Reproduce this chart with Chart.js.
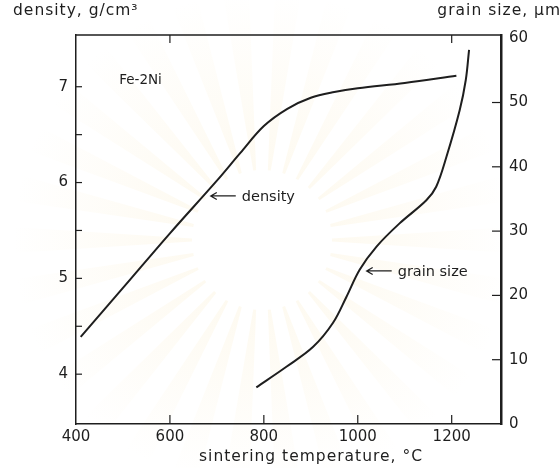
<!DOCTYPE html>
<html>
<head>
<meta charset="utf-8">
<title>Fe-2Ni sintering</title>
<script src="https://cdn.jsdelivr.net/npm/chart.js@4.4.1/dist/chart.umd.min.js"></script>
<style>
  html, body { margin: 0; padding: 0; background: #fff; }
  canvas { display: block; }
</style>
</head>
<body>
<canvas id="chart" width="560" height="468"></canvas>
<script>
// density curve: sintering temperature (°C) -> g/cm3
const densityTemp = [410, 500, 600, 700, 750, 800, 850, 900, 950, 1000, 1100, 1210];
const densityValue = [4.39, 4.90, 5.47, 6.02, 6.31, 6.59, 6.77, 6.885, 6.945, 6.985, 7.04, 7.115];

// grain size curve: sintering temperature (°C) -> µm
const grainTemp = [784, 848, 905, 947, 976, 1004, 1040, 1089, 1146, 1167, 1189, 1217, 1230, 1237];
const grainValue = [5.7, 8.9, 12.0, 15.7, 19.8, 24.0, 27.6, 31.2, 34.8, 36.9, 41.6, 48.8, 53.5, 58.2];

// axis ticks
const tempTicks = [400, 600, 800, 1000, 1200];
const tempTopTicks = [600, 1200];
const densityTicks = [4, 5, 6, 7];
const densityMinorTicks = [4.5, 5.5, 6.5];
const grainTicks = [0, 10, 20, 30, 40, 50, 60];

const INK = '#1e1e1e';
const FONT = 'DejaVu Sans';

document.addEventListener('DOMContentLoaded', () => {
    const ctx = document.getElementById('chart').getContext('2d');

    const toPoints = (xs, ys) => xs.map((x, i) => ({ x: x, y: ys[i] }));
    const setTicks = (values) => (scale) => {
        scale.ticks = values.map(v => ({ value: v }));
    };
    const plainLabel = (v) => String(v);

    const line = (c, x1, y1, x2, y2) => {
        c.beginPath();
        c.moveTo(x1, y1);
        c.lineTo(x2, y2);
        c.stroke();
    };

    // left-pointing arrow followed by a text label
    const arrowLabel = (c, x, y, text) => {
        c.beginPath();
        c.moveTo(x + 25, y);
        c.lineTo(x, y);
        c.moveTo(x + 6, y - 3.5);
        c.lineTo(x, y);
        c.lineTo(x + 6, y + 3.5);
        c.stroke();
        c.fillText(text, x + 31, y + 1);
    };

    // faint sunburst behind the plot
    const drawBackdrop = (c) => {
        const cx = 262, cy = 240;
        const g = c.createRadialGradient(cx, cy, 60, cx, cy, 250);
        g.addColorStop(0, 'rgba(246, 222, 160, 0.16)');
        g.addColorStop(1, 'rgba(246, 222, 160, 0)');
        c.fillStyle = g;
        const n = 30;
        for (let i = 0; i < n; i++) {
            const a = (i / n) * Math.PI * 2;
            const w = Math.PI / n * 0.5;
            c.beginPath();
            c.moveTo(cx + Math.cos(a - w * 0.4) * 70, cy + Math.sin(a - w * 0.4) * 70);
            c.lineTo(cx + Math.cos(a - w) * 250, cy + Math.sin(a - w) * 250);
            c.lineTo(cx + Math.cos(a + w) * 250, cy + Math.sin(a + w) * 250);
            c.lineTo(cx + Math.cos(a + w * 0.4) * 70, cy + Math.sin(a + w * 0.4) * 70);
            c.closePath();
            c.fill();
        }
    };

    const framePlugin = {
        id: 'frame',
        beforeDraw: (chart) => {
            const c = chart.ctx;
            c.save();
            c.fillStyle = '#fff';
            c.fillRect(0, 0, chart.width, chart.height);
            drawBackdrop(c);
            c.restore();
        },
        afterDraw: (chart) => {
            const c = chart.ctx;
            const area = chart.chartArea;
            const sx = chart.scales.x;
            const sd = chart.scales.yDensity;
            const sg = chart.scales.yGrain;
            c.save();
            c.strokeStyle = INK;
            c.lineWidth = 1.5;

            // top frame line
            line(c, area.left, area.top, area.right, area.top);

            // inward tick marks
            c.lineWidth = 1.2;
            tempTicks.slice(1).forEach(v => {
                const x = sx.getPixelForValue(v);
                line(c, x, area.bottom, x, area.bottom - 9);
            });
            tempTopTicks.forEach(v => {
                const x = sx.getPixelForValue(v);
                line(c, x, area.top, x, area.top + 8);
            });
            densityTicks.concat(densityMinorTicks).forEach(v => {
                const y = sd.getPixelForValue(v);
                line(c, area.left, y, area.left + 6, y);
            });
            grainTicks.slice(1, -1).forEach(v => {
                const y = sg.getPixelForValue(v);
                line(c, area.right - 9, y, area.right, y);
            });

            c.fillStyle = INK;
            c.textBaseline = 'middle';
            c.textAlign = 'left';

            // alloy label
            c.font = '13.5px "' + FONT + '"';
            c.fillText('Fe-2Ni', sx.getPixelForValue(492), sd.getPixelForValue(7.07));

            // curve labels
            c.lineWidth = 1.3;
            c.font = '14.5px "' + FONT + '"';
            arrowLabel(c, sx.getPixelForValue(687), sd.getPixelForValue(5.86), 'density');
            arrowLabel(c, sx.getPixelForValue(1019), sg.getPixelForValue(23.8), 'grain size');

            // axis titles
            c.font = '15.5px "' + FONT + '"';
            c.letterSpacing = '1px';
            c.textBaseline = 'alphabetic';
            c.fillText('density, g/cm³', 13, 15);
            c.textAlign = 'right';
            c.fillText('grain size, µm', 561, 15);
            c.textAlign = 'center';
            c.fillText('sintering temperature, °C', 311, 461);
            c.restore();
        }
    };

    const tickFont = { family: FONT, size: 15 };

    new Chart(ctx, {
        type: 'line',
        data: {
            datasets: [
                {
                    label: 'density',
                    data: toPoints(densityTemp, densityValue),
                    yAxisID: 'yDensity',
                    borderColor: INK,
                    borderWidth: 2,
                    pointRadius: 0,
                    tension: 0.35,
                    fill: false
                },
                {
                    label: 'grain size',
                    data: toPoints(grainTemp, grainValue),
                    yAxisID: 'yGrain',
                    borderColor: INK,
                    borderWidth: 2,
                    pointRadius: 0,
                    tension: 0.35,
                    fill: false
                }
            ]
        },
        options: {
            responsive: false,
            animation: false,
            layout: { padding: { top: 35, left: 0, right: 0, bottom: 0 } },
            plugins: {
                legend: { display: false },
                tooltip: { enabled: false }
            },
            scales: {
                x: {
                    type: 'linear',
                    position: 'bottom',
                    min: 400,
                    max: 1305,
                    grid: { display: false, drawTicks: false },
                    border: { display: true, color: INK, width: 1.5 },
                    afterBuildTicks: setTicks(tempTicks),
                    afterFit: (s) => { s.height = 44; },
                    ticks: { font: tickFont, color: INK, padding: 4, maxRotation: 0, callback: plainLabel }
                },
                yDensity: {
                    type: 'linear',
                    position: 'left',
                    min: 3.48,
                    max: 7.54,
                    grid: { display: false, drawTicks: false },
                    border: { display: true, color: INK, width: 1.5 },
                    afterBuildTicks: setTicks(densityTicks),
                    afterFit: (s) => { s.width = 76; },
                    ticks: { font: tickFont, color: INK, padding: 8, callback: plainLabel }
                },
                yGrain: {
                    type: 'linear',
                    position: 'right',
                    min: 0,
                    max: 60.5,
                    grid: { display: false, drawTicks: false },
                    border: { display: true, color: INK, width: 2.5 },
                    afterBuildTicks: setTicks(grainTicks),
                    afterFit: (s) => { s.width = 59; },
                    ticks: { font: tickFont, color: INK, padding: 8, callback: plainLabel }
                }
            }
        },
        plugins: [framePlugin]
    });
});
</script>
</body>
</html>
